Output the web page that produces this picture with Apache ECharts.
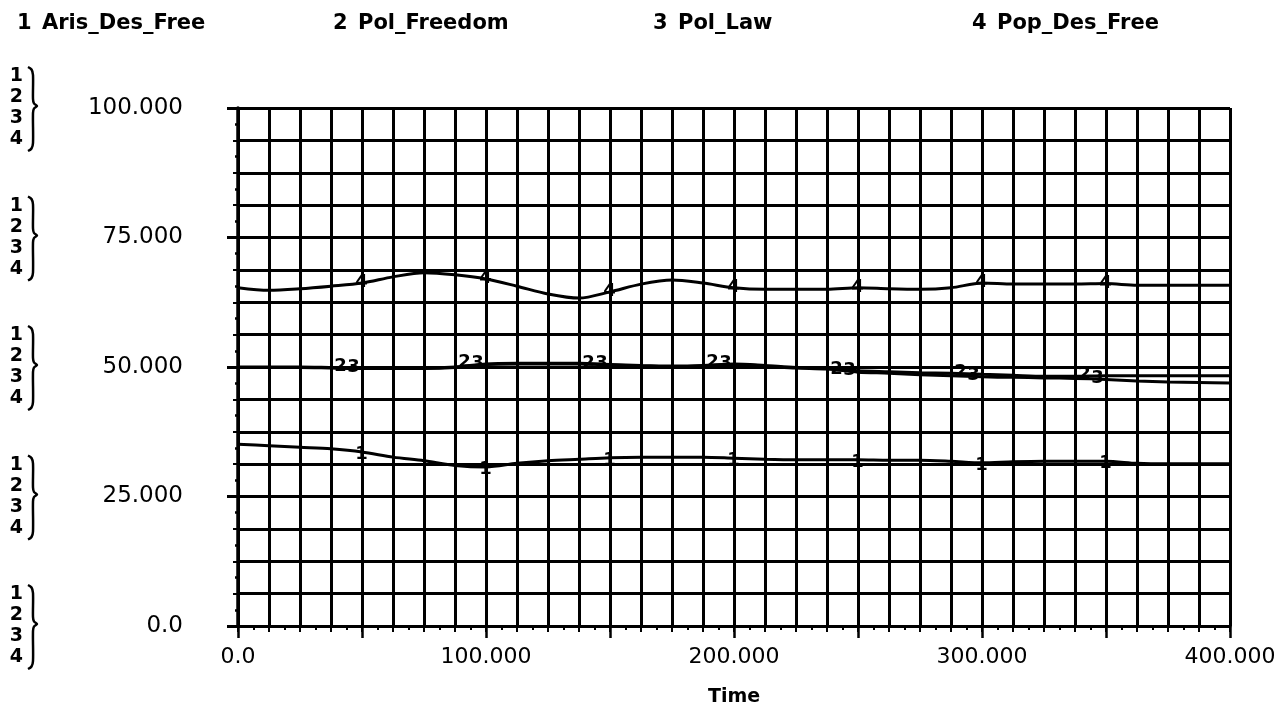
<!DOCTYPE html>
<html>
<head>
<meta charset="utf-8">
<script src="https://cdn.jsdelivr.net/npm/echarts@6/dist/echarts.min.js"></script>
<style>html,body{margin:0;padding:0;background:#fff;}#chart{width:1283px;height:712px;}</style>
</head>
<body>
<div id="chart"></div>
<script>
const FONT = 'DejaVu Sans';
const seriesNames = ['Aris_Des_Free', 'Pol_Freedom', 'Pol_Law', 'Pop_Des_Free'];
const time = [0, 12.5, 25, 37.5, 50, 62.5, 75, 87.5, 100, 112.5, 125, 137.5, 150, 162.5, 175, 187.5, 200,
  212.5, 225, 237.5, 250, 262.5, 275, 287.5, 300, 312.5, 325, 337.5, 350, 362.5, 375, 387.5, 400];
const arisDesFree = [35.1, 34.8, 34.5, 34.2, 33.6, 32.6, 31.9, 31.0, 30.7, 31.4, 31.9, 32.2, 32.5, 32.6, 32.6, 32.6, 32.4,
  32.2, 32.1, 32.1, 32.1, 32.0, 32.0, 31.8, 31.5, 31.7, 31.8, 31.8, 31.8, 31.4, 31.3, 31.3, 31.3];
const polFreedom = [50.0, 50.0, 50.0, 49.9, 49.8, 49.8, 49.8, 50.0, 50.6, 50.7, 50.7, 50.7, 50.5, 50.3, 50.2, 50.3, 50.6,
  50.3, 49.9, 49.8, 49.3, 49.1, 48.9, 48.8, 48.6, 48.4, 48.2, 48.2, 48.3, 48.3, 48.3, 48.3, 48.3];
const polLaw = [49.9, 49.9, 49.9, 49.8, 49.7, 49.7, 49.7, 49.9, 50.5, 50.6, 50.6, 50.6, 50.4, 50.2, 50.1, 50.2, 50.5,
  50.2, 49.8, 49.6, 49.0, 48.8, 48.5, 48.3, 48.1, 48.0, 47.9, 47.8, 47.6, 47.3, 47.1, 47.0, 46.9];
const popDesFree = [65.3, 64.8, 65.1, 65.6, 66.2, 67.4, 68.2, 67.8, 67.0, 65.6, 64.1, 63.3, 64.5, 66.0, 66.8, 66.2, 65.3,
  65.0, 65.0, 65.0, 65.3, 65.1, 65.0, 65.3, 66.2, 66.0, 66.0, 66.0, 66.1, 65.8, 65.8, 65.8, 65.8];
const markerTimes = [50, 100, 150, 200, 250, 300, 350];
const xTickLabels = {0: '0.0', 100: '100.000', 200: '200.000', 300: '300.000', 400: '400.000'};
const yTickLabels = {0: '0.0', 25: '25.000', 50: '50.000', 75: '75.000', 100: '100.000'};
const legendLeft = [7, 323, 643, 962];

const seriesValues = [arisDesFree, polFreedom, polLaw, popDesFree];
const labelOffsets = [[0, 3], [-21, -1], [-8, -1], [0, 0]];

const chart = echarts.init(document.getElementById('chart'), null, {renderer: 'canvas'});

function buildData(vals, idx) {
  return time.map((t, i) => {
    const show = markerTimes.indexOf(t) >= 0;
    return {
      value: [t, vals[i]],
      label: {
        show: show, formatter: String(idx + 1),
        position: labelOffsets[idx], align: 'center', verticalAlign: 'middle',
        fontSize: 18, fontWeight: 'bold', color: '#000', fontFamily: FONT
      }
    };
  });
}

const option = {
  backgroundColor: '#fff',
  animation: false,
  textStyle: {fontFamily: FONT, color: '#000'},
  legend: seriesNames.map((n, i) => ({
    data: [n],
    left: legendLeft[i],
    top: 8,
    icon: 'none',
    itemWidth: 0,
    itemHeight: 0,
    selectedMode: false,
    formatter: name => '{n|' + (i + 1) + '}{t|' + name + '}',
    textStyle: {
      color: '#000', fontFamily: FONT, fontSize: 21, fontWeight: 'bold',
      rich: {
        n: {width: 25, fontSize: 21, fontWeight: 'bold', fontFamily: FONT, color: '#000'},
        t: {fontSize: 21, fontWeight: 'bold', fontFamily: FONT, color: '#000'}
      }
    }
  })),
  grid: {left: 238, right: 53, top: 108, bottom: 77},
  xAxis: [
    {
      type: 'value', min: 0, max: 400, interval: 12.5,
      axisLine: {lineStyle: {color: '#000', width: 3}},
      axisTick: {show: true, length: 6, lineStyle: {color: '#000', width: 2}},
      minorTick: {show: true, splitNumber: 2, length: 4, lineStyle: {color: '#000', width: 2}},
      splitLine: {show: true, lineStyle: {color: '#000', width: 3}},
      axisLabel: {show: false}
    },
    {
      type: 'value', min: 0, max: 400, interval: 50, position: 'bottom', offset: 0,
      axisLine: {show: false},
      axisTick: {show: true, length: 12, lineStyle: {color: '#000', width: 2.5}},
      splitLine: {show: false},
      axisLabel: {
        show: true, margin: 20, fontSize: 22, color: '#000', fontFamily: FONT,
        formatter: v => (xTickLabels[v] !== undefined ? xTickLabels[v] : '')
      },
      name: 'Time', nameLocation: 'middle', nameGap: 62,
      nameTextStyle: {fontSize: 19, fontWeight: 'bold', color: '#000', fontFamily: FONT}
    }
  ],
  yAxis: [
    {
      type: 'value', min: 0, max: 100, interval: 6.25,
      axisLine: {show: true, lineStyle: {color: '#000', width: 3.5}},
      axisTick: {show: true, length: 5, lineStyle: {color: '#000', width: 2}},
      minorTick: {show: true, splitNumber: 2, length: 3, lineStyle: {color: '#000', width: 2.5}},
      splitLine: {show: true, lineStyle: {color: '#000', width: 3}},
      axisLabel: {show: false}
    },
    {
      type: 'value', min: 0, max: 100, interval: 25, position: 'left', offset: 0,
      axisLine: {show: false},
      axisTick: {show: true, length: 11, lineStyle: {color: '#000', width: 3}},
      splitLine: {show: false},
      axisLabel: {
        show: true, margin: 55, fontSize: 23, color: '#000', fontFamily: FONT,
        formatter: v => (yTickLabels[v] !== undefined ? yTickLabels[v] : '')
      }
    },
    {
      type: 'value', min: 0, max: 100, interval: 25, position: 'left', offset: 0,
      axisLine: {show: false}, axisTick: {show: false}, splitLine: {show: false},
      axisLabel: {
        show: true, margin: 215, color: '#000', fontFamily: FONT,
        formatter: () => '{d|1}\n{d|2}\n{d|3}\n{d|4}',
        rich: {d: {fontSize: 19, lineHeight: 21, fontWeight: 'bold', fontFamily: FONT, color: '#000'}}
      }
    }
  ],
  series: seriesNames.map((n, i) => ({
    name: n,
    type: 'line',
    xAxisIndex: 0,
    yAxisIndex: 0,
    data: buildData(seriesValues[i], i),
    smooth: 0.3,
    showSymbol: true,
    showAllSymbol: true,
    symbol: 'circle',
    symbolSize: 1,
    itemStyle: {color: 'rgba(0,0,0,0)', borderWidth: 0},
    lineStyle: {color: '#000', width: 3},
    labelLayout: {hideOverlap: false},
    emphasis: {disabled: true},
    z: 5
  }))
};
chart.setOption(option);

// braces next to the stacked series numbers
const braceVals = [0, 25, 50, 75, 100];
const braces = braceVals.map(v => {
  const y = chart.convertToPixel({yAxisIndex: 0}, v);
  const top = y - 41, bot = y + 43, mid = y - 2;
  return {
    type: 'polyline',
    shape: {
      points: [[28, top], [31.5, top + 2.5], [33, top + 8], [33, mid - 7], [34, mid - 2.5], [37, mid],
        [34, mid + 2.5], [33, mid + 7], [33, bot - 8], [31.5, bot - 2.5], [28, bot]],
      smooth: 0.3
    },
    style: {stroke: '#000', lineWidth: 2.5, fill: null}
  };
});
chart.setOption({graphic: braces});
</script>
</body>
</html>
